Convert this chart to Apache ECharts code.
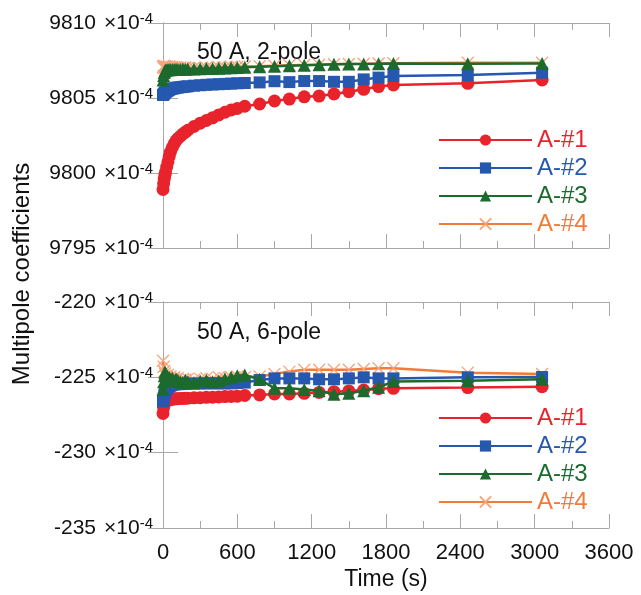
<!DOCTYPE html>
<html>
<head>
<meta charset="utf-8">
<script src="https://cdn.jsdelivr.net/npm/echarts@6/dist/echarts.min.js"></script>
<style>html,body{margin:0;padding:0;background:#fff;}#c{width:641px;height:595px;}</style>
</head>
<body>
<div id="c"></div>
<script>
// Time (s)
const T = [0, 5, 10, 15, 20, 30, 40, 50, 60, 75, 90, 105, 120, 140, 160, 180, 200, 250, 300, 350, 400, 450, 500, 550, 600, 660, 780, 900, 1020, 1140, 1260, 1380, 1500, 1620, 1740, 1860, 2460, 3060];

// 2-pole (x1e-4)
const p2_A1 = [9798.9, 9799.3, 9799.6, 9799.85, 9800.05, 9800.4, 9800.75, 9801.1, 9801.4, 9801.7, 9801.95, 9802.15, 9802.3, 9802.45, 9802.6, 9802.72, 9802.85, 9803.1, 9803.32, 9803.5, 9803.68, 9803.87, 9804.05, 9804.2, 9804.3, 9804.45, 9804.6, 9804.8, 9804.93, 9805.08, 9805.13, 9805.27, 9805.42, 9805.58, 9805.76, 9805.87, 9805.98, 9806.2];
const p2_A2 = [9805.2, 9805.25, 9805.3, 9805.35, 9805.4, 9805.45, 9805.5, 9805.55, 9805.6, 9805.62, 9805.65, 9805.68, 9805.7, 9805.72, 9805.74, 9805.76, 9805.78, 9805.82, 9805.85, 9805.88, 9805.9, 9805.92, 9805.94, 9805.96, 9805.98, 9806.0, 9806.04, 9806.12, 9806.06, 9806.13, 9806.13, 9806.08, 9806.08, 9806.24, 9806.36, 9806.47, 9806.53, 9806.69];
const p2_A3 = [9806.2, 9806.5, 9806.7, 9806.8, 9806.85, 9806.87, 9806.88, 9806.9, 9806.88, 9806.9, 9806.9, 9806.92, 9806.9, 9806.92, 9806.93, 9806.92, 9806.93, 9806.94, 9806.95, 9806.96, 9806.97, 9806.98, 9807.0, 9807.02, 9807.04, 9807.05, 9807.08, 9807.12, 9807.15, 9807.18, 9807.22, 9807.25, 9807.27, 9807.27, 9807.28, 9807.3, 9807.28, 9807.3];
const p2_A4 = [9807.05, 9807.15, 9807.0, 9807.12, 9807.05, 9807.1, 9807.02, 9807.1, 9807.05, 9807.08, 9807.03, 9807.06, 9807.0, 9807.05, 9807.0, 9807.03, 9807.0, 9807.02, 9807.0, 9807.03, 9807.02, 9807.05, 9807.05, 9807.08, 9807.08, 9807.1, 9807.12, 9807.15, 9807.18, 9807.2, 9807.22, 9807.25, 9807.27, 9807.28, 9807.3, 9807.32, 9807.35, 9807.35];

// 6-pole (x1e-4)
const p6_A1 = [-227.4, -227.0, -226.8, -226.7, -226.6, -226.55, -226.5, -226.5, -226.45, -226.45, -226.43, -226.42, -226.42, -226.4, -226.4, -226.38, -226.38, -226.36, -226.35, -226.33, -226.32, -226.3, -226.28, -226.27, -226.25, -226.2, -226.17, -226.1, -226.1, -226.06, -226.0, -225.95, -225.9, -225.84, -225.75, -225.73, -225.68, -225.62];
const p6_A2 = [-226.6, -226.4, -226.2, -226.0, -225.9, -225.75, -225.65, -225.6, -225.55, -225.5, -225.47, -225.45, -225.45, -225.45, -225.44, -225.43, -225.42, -225.42, -225.41, -225.4, -225.4, -225.4, -225.4, -225.4, -225.38, -225.35, -225.18, -225.07, -225.07, -225.07, -225.13, -225.13, -225.07, -225.0, -225.07, -225.07, -225.0, -224.98];
const p6_A3 = [-225.8, -225.3, -224.9, -224.65, -224.7, -224.9, -225.1, -225.0, -225.15, -225.05, -225.25, -225.1, -225.2, -225.3, -225.35, -225.2, -225.3, -225.35, -225.25, -225.2, -225.3, -225.25, -225.1, -225.0, -224.9, -224.85, -225.13, -225.73, -225.73, -225.8, -225.89, -226.13, -226.06, -225.89, -225.66, -225.28, -225.22, -225.13];
const p6_A4 = [-223.9, -224.3, -224.6, -224.75, -224.9, -225.0, -224.85, -225.05, -224.95, -225.1, -225.0, -225.15, -225.05, -225.2, -225.1, -225.15, -225.1, -225.15, -225.1, -225.05, -225.1, -225.0, -225.05, -225.0, -224.95, -225.0, -224.95, -224.78, -224.62, -224.5, -224.5, -224.5, -224.5, -224.45, -224.4, -224.4, -224.69, -224.78];

const names = ['A-#1', 'A-#2', 'A-#3', 'A-#4'];
const topTicks = [9795, 9800, 9805, 9810];
const botTicks = [-235, -230, -225, -220];

const FONT = 'Liberation Sans, Arial, sans-serif';
const colors = ['#e8232b', '#2658b0', '#1c6a2e', '#f27b38'];
const symColors = ['#e8232b', '#2658b0', '#1c6a2e', '#f8a47a'];
const symbols = ['circle', 'rect', 'triangle', 'path://M0,0L10,10M0,10L10,0'];
const symSizes = [13, 12, 13, 12];
const zOrder = [2, 3, 4, 1];
const axisGray = '#a8a8a8';

const chart = echarts.init(document.getElementById('c'), null, {renderer: 'canvas'});

const gridDefs = [
  {left: 163, top: 23, width: 446, height: 225},
  {left: 163, top: 302, width: 446, height: 226}
];

function xAxes(gi, showLabels) {
  const base = {
    type: 'value', gridIndex: gi, min: 0, max: 3600, interval: 600,
    axisLine: {show: true, lineStyle: {color: axisGray, width: 1}},
    axisTick: {show: true, inside: true, length: 14, lineStyle: {color: axisGray}},
    minorTick: {show: true, splitNumber: 2, length: 7, lineStyle: {color: axisGray}},
    splitLine: {show: false}
  };
  return [
    Object.assign({}, base, {position: 'bottom',
      axisLabel: {show: showLabels, fontSize: 22, color: '#111', fontFamily: FONT, margin: 14,
        formatter: v => String(v)},
      name: showLabels ? 'Time (s)' : '', nameLocation: 'middle', nameGap: 40,
      nameTextStyle: {fontSize: 23, color: '#111', fontFamily: FONT}}),
    Object.assign({}, base, {position: 'top', axisLabel: {show: false}})
  ];
}

function yAxes(gi, mn, mx) {
  const base = {
    type: 'value', gridIndex: gi, min: mn, max: mx, interval: 5,
    axisLine: {show: true, lineStyle: {color: axisGray, width: 1}},
    axisTick: {show: true, inside: true, length: 15, lineStyle: {color: axisGray}},
    splitLine: {show: false}
  };
  return [
    Object.assign({}, base, {position: 'left',
      axisLabel: {show: true, margin: 10, fontFamily: FONT,
        formatter: v => '{n|' + v + '}{m|\u00d7}{t|10}{s|-4}',
        rich: {
          n: {fontSize: 21, color: '#111', fontFamily: FONT, lineHeight: 24},
          m: {fontSize: 21, color: '#111', fontFamily: FONT, lineHeight: 24, padding: [0, 0, 0, 8]},
          t: {fontSize: 21, color: '#111', fontFamily: FONT, lineHeight: 24},
          s: {fontSize: 15, color: '#111', fontFamily: FONT, verticalAlign: 'top', lineHeight: 24}
        }}}),
    Object.assign({}, base, {position: 'right', axisLabel: {show: false}})
  ];
}

const xAxis = [...xAxes(0, false), ...xAxes(1, true)];
const yAxis = [...yAxes(0, topTicks[0], topTicks[topTicks.length - 1]), ...yAxes(1, botTicks[0], botTicks[botTicks.length - 1])];

const panels = [[p2_A1, p2_A2, p2_A3, p2_A4], [p6_A1, p6_A2, p6_A3, p6_A4]];
const series = [];
panels.forEach((arrs, gi) => {
  arrs.forEach((arr, k) => {
    series.push({
      name: names[k], type: 'line',
      xAxisIndex: gi * 2, yAxisIndex: gi * 2,
      data: T.map((t, i) => [t, arr[i]]),
      symbol: symbols[k], symbolSize: symSizes[k], showAllSymbol: true,
      clip: false, z: zOrder[k], animation: false,
      lineStyle: {color: colors[k], width: 2.5},
      itemStyle: k === 3
        ? {color: symColors[k], borderColor: symColors[k], borderWidth: 1.3}
        : {color: symColors[k], borderWidth: 0}
    });
  });
});

function legend(top) {
  return {
    orient: 'vertical', left: 433, top: top,
    itemWidth: 93, itemHeight: 14, itemGap: 4,
    selectedMode: false,
    textStyle: {fontSize: 24, fontFamily: FONT, padding: [0, 0, 0, 0]},
    data: names.map((n, k) => ({name: n, textStyle: {color: colors[k]}}))
  };
}

chart.setOption({
  animation: false,
  backgroundColor: '#fff',
  grid: gridDefs,
  xAxis: xAxis,
  yAxis: yAxis,
  legend: [legend(123), legend(401)],
  series: series,
  graphic: [
    {type: 'text', x: 22, y: 274, rotation: Math.PI / 2,
      style: {text: 'Multipole coefficients', fontSize: 24, fontFamily: FONT, fill: '#111', align: 'center', verticalAlign: 'middle'}},
    {type: 'text', x: 197, y: 53,
      style: {text: '50 A, 2-pole', fontSize: 23, fontFamily: FONT, fill: '#111', align: 'left', verticalAlign: 'middle'}},
    {type: 'text', x: 197, y: 333,
      style: {text: '50 A, 6-pole', fontSize: 23, fontFamily: FONT, fill: '#111', align: 'left', verticalAlign: 'middle'}}
  ]
});
</script>
</body>
</html>
